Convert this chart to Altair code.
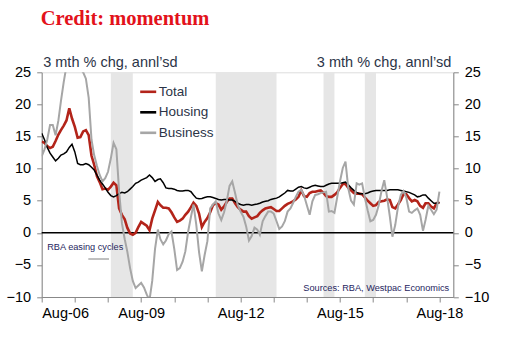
import altair as alt
import pandas as pd

# ---------------- data (monthly, Aug-06 .. Aug-18) ----------------
START = "2006-08-01"
series_names = ["Total", "Housing", "Business"]
series_colors = ["#b3241a", "#000000", "#a6a6a6"]

total = [14.2, 14.0, 13.5, 13.2, 13.4, 14.3, 15.3, 16.0, 16.7, 17.5, 19.4, 17.8,
         16.5, 14.8, 14.9, 15.8, 16.0, 15.2, 12.0, 10.6, 8.8, 7.9, 6.8, 6.9,
         6.7, 7.2, 7.8, 7.4, 3.8, 2.8, 2.1, 0.8, -0.1, -0.3, 0.0, 0.9,
         1.7, 1.4, 1.1, 0.4, 2.2, 3.5, 4.8, 4.3, 3.9, 3.9, 3.8, 3.2,
         2.4, 1.7, 1.9, 2.2, 2.8, 3.3, 4.0, 4.7, 4.2, 3.0, 0.9, 1.7,
         2.3, 3.2, 4.3, 4.6, 4.4, 3.6, 4.1, 4.8, 5.35, 5.35, 4.6, 4.0,
         3.6, 3.3, 3.3, 2.6, 2.2, 2.4, 2.6, 3.1, 3.5, 3.8, 3.9, 4.0,
         3.7, 3.4, 3.4, 3.8, 4.2, 4.5, 4.7, 4.9, 5.2, 5.6, 6.6, 5.7,
         5.6, 6.2, 6.4, 6.4, 6.5, 6.6, 6.2, 5.7, 5.6, 5.6, 5.9, 6.3,
         7.0, 7.6, 7.6, 7.0, 6.6, 6.2, 6.1, 6.1, 6.0, 5.5, 5.0, 4.6,
         4.2, 4.3, 4.8, 4.9, 5.0, 5.2, 5.1, 4.0, 3.8, 4.4, 5.1, 6.0,
         6.0, 5.4, 4.9, 5.1, 4.9, 4.2, 3.9, 4.6, 4.6, 4.1, 3.8, 4.6,
         4.8]

housing = [15.5, 14.5, 13.3, 12.4, 11.8, 11.2, 11.6, 12.1, 12.3, 12.6, 13.3, 13.8,
           12.6, 10.8, 10.6, 10.6, 10.8, 10.6, 10.2, 9.8, 9.0, 8.2, 7.6, 7.0,
           6.3, 5.8, 5.6, 5.8, 6.1, 6.3, 6.2, 6.4, 6.8, 7.2, 7.7, 7.9,
           8.2, 8.4, 8.6, 9.0, 8.6, 8.0, 8.3, 8.4, 7.8, 7.0, 6.9, 6.9,
           6.8, 6.6, 6.5, 6.5, 6.6, 6.6, 6.4, 5.9, 5.4, 5.3, 5.35, 5.5,
           5.6, 5.6, 5.5, 5.35, 5.2, 5.1, 5.2, 5.2, 5.1, 5.1, 4.9, 4.6,
           4.4, 4.3, 4.4, 4.4, 4.3, 4.4, 4.5, 4.6, 4.8, 4.9, 5.0, 5.2,
           5.3, 5.4, 5.6, 5.9, 6.2, 6.6, 6.5, 6.5, 6.8, 7.1, 7.2, 7.0,
           6.9, 7.1, 7.3, 7.4, 7.3, 7.2, 7.2, 7.4, 7.6, 7.7, 7.7, 7.7,
           7.7, 7.8, 7.9, 7.5, 7.0, 6.6, 6.3, 6.1, 6.1, 6.1, 6.2, 6.4,
           6.5, 6.6, 6.6, 6.6, 6.6, 6.6, 6.7, 6.7, 6.7, 6.7, 6.6, 6.5,
           6.4, 6.3, 6.1, 5.9, 5.6, 5.7, 5.9, 5.9, 5.4, 5.0, 4.6, 4.6,
           4.7]

business = [11.9, 13.0, 14.5, 16.8, 16.8, 15.2, 17.5, 20.5, 23.5, 26.0, 25.5, 26.0,
            25.5, 26.0, 25.5, 25.0, 24.0, 21.0, 14.5, 12.1, 10.4, 9.0, 8.0, 8.5,
            9.5, 11.6, 14.0, 13.0, 6.5, 1.5, -1.0, -2.9, -5.5, -7.5, -8.6, -8.2,
            -7.8, -8.5, -9.6, -10.5, -7.5, -2.5, 0.5, -1.0, -1.8, -1.2, -0.2, 0.2,
            -2.5, -5.8, -5.5, -4.5, -2.9, 0.2, 2.5, 4.4, 1.2, -3.0, -6.0, -3.5,
            -1.3, 3.8, 4.4, 4.9, 3.0, 2.0, 3.2, 4.9, 7.3, 8.0, 6.2, 4.3,
            3.3, 2.5, 1.0, -1.2, -0.5, 0.8, 0.5, -0.3, 1.8, 2.6, 3.3, 3.3,
            3.0, 1.8, 0.6, 1.0, 1.8, 3.3, 3.8, 4.6, 5.6, 6.4, 6.7, 5.8,
            4.3, 2.8, 4.9, 5.9, 6.0, 6.2, 6.3, 6.4, 3.3, 3.4, 3.1, 5.5,
            8.0, 10.1, 11.1, 6.9, 5.0, 4.4, 7.7, 7.5, 7.7, 5.5, 3.5, 1.8,
            2.0, 2.8, 4.3, 6.5, 8.2, 5.6, 2.5, -0.6, 1.2, 4.0, 5.9, 6.5,
            5.5, 3.3, 3.1, 3.5, 3.8, 2.8, 0.3, 2.0, 4.2, 3.6, 2.9, 3.6,
            6.4]

easing_start = ["2008-09-01", "2011-11-01", "2015-02-01", "2016-05-01"]
easing_end = ["2009-05-01", "2013-09-01", "2015-06-01", "2016-09-01"]

y_ticks = [-10, -5, 0, 5, 10, 15, 20, 25]
x_tick_years = list(range(2006, 2019))

title_text = "Credit: momentum"
unit_text = "3 mth % chg, annl\u2019sd"
easing_text = "RBA easing cycles"
source_text = "Sources: RBA, Westpac Economics"

# ---------------- tables ----------------
months = pd.date_range(START, periods=len(total), freq="MS").strftime("%Y-%m-%d")
wide = pd.DataFrame({"date": months, "Total": total, "Housing": housing, "Business": business})
long = wide.melt("date", var_name="series", value_name="value")
shade = pd.DataFrame({"start": easing_start, "end": easing_end})

# ---------------- layout ----------------
W, H = 411.6, 224.7
PAD_L, PAD_T = 41.7, 72.3
FONT = "Liberation Sans"
TXT = "#2b3447"

xscale = alt.Scale(type="utc", domain=[alt.DateTime(year=2006, month=8, date=1, utc=True),
                                       alt.DateTime(year=2019, month=1, date=1, utc=True)])
yscale = alt.Scale(domain=[-10, 25], nice=False, zero=False)

x_axis = alt.Axis(
    title=None, grid=False,
    values=[alt.DateTime(year=y, month=8, date=1, utc=True) for y in x_tick_years],
    labelExpr="(utcyear(datum.value) - 2006) % 3 == 0 ? utcFormat(datum.value, '%b-%y') : ''",
    tickSize=5, labelPadding=4, labelFontSize=14.5, labelOverlap=False,
)
left_axis = alt.Axis(title=None, grid=False, orient="left", values=y_ticks,
                     tickSize=5, labelPadding=6, labelFontSize=14.5)
right_axis = alt.Axis(title=None, grid=False, orient="right", values=y_ticks,
                      tickSize=5, labelPadding=6, labelFontSize=14.5)

color_scale = alt.Scale(domain=series_names, range=series_colors)

shading = alt.Chart(shade).mark_rect(color="#e6e6e6").encode(
    x=alt.X("start:T", scale=xscale, axis=x_axis),
    x2="end:T",
)

zero = alt.Chart(pd.DataFrame({"zero": [0]})).mark_rule(color="#000000", strokeWidth=1.4).encode(
    y=alt.Y("zero:Q", scale=yscale, axis=left_axis)
)

widths = {"Total": 2.6, "Housing": 1.5, "Business": 2.0}


def series_layer(name, axis):
    return alt.Chart(long).transform_filter(alt.datum.series == name).mark_line(
        clip=True, strokeWidth=widths[name]
    ).encode(
        x=alt.X("date:T", scale=xscale, axis=x_axis),
        y=alt.Y("value:Q", scale=yscale, axis=axis),
        color=alt.Color("series:N", scale=color_scale,
                        legend=alt.Legend(title=None, orient="none", legendX=97, legendY=10,
                                          symbolType="stroke", symbolSize=256,
                                          symbolStrokeWidth=2.6, labelFontSize=13.5,
                                          labelColor=TXT, labelFont=FONT, rowPadding=4.5,
                                          labelOffset=1, padding=0)),
    )


line_total = series_layer("Total", right_axis)
line_housing = series_layer("Housing", None)
line_business = series_layer("Business", None)


def note(text, x, y, size, align="left", color=TXT, font=FONT, weight="normal", baseline="middle"):
    return alt.Chart(pd.DataFrame({"t": [text]})).mark_text(
        align=align, baseline=baseline, fontSize=size, font=font, fontWeight=weight, color=color
    ).encode(x=alt.value(x), y=alt.value(y), text="t:N")


title = note(title_text, -1, -47.5, 20.5, font="Liberation Serif", weight="bold",
             color="#e3121b", baseline="alphabetic")
unit_left = note(unit_text, 1.5, -9.5, 14.5)
unit_right = note(unit_text, 409.5, -9.5, 14.5, align="right")
easing = note(easing_text, 5.5, 174.5, 9.2, color="#262660")
source = note(source_text, 407.5, 216, 9.2, align="right", color="#262660")
easing_key = alt.Chart(pd.DataFrame({"k": [0]})).mark_rule(color="#808080", strokeWidth=1).encode(
    x=alt.value(46.6), x2=alt.value(67.3), y=alt.value(186.7)
)

chart = alt.layer(
    shading, zero, line_total, line_housing, line_business,
    easing, easing_key, source, unit_left, unit_right, title,
).resolve_axis(y="independent").properties(
    width=W, height=H,
    autosize=alt.AutoSizeParams(type="none"),
    padding={"left": PAD_L, "top": PAD_T, "right": 509 - PAD_L - W, "bottom": 343 - PAD_T - H},
).configure_view(stroke="#404040", strokeWidth=1).configure_axis(
    domainColor="#404040", tickColor="#404040", labelColor=TXT, labelFont=FONT,
    domainWidth=1, tickWidth=1,
).configure(background="white")

chart.save("out.html", embed_options={"renderer": "svg", "actions": False})
